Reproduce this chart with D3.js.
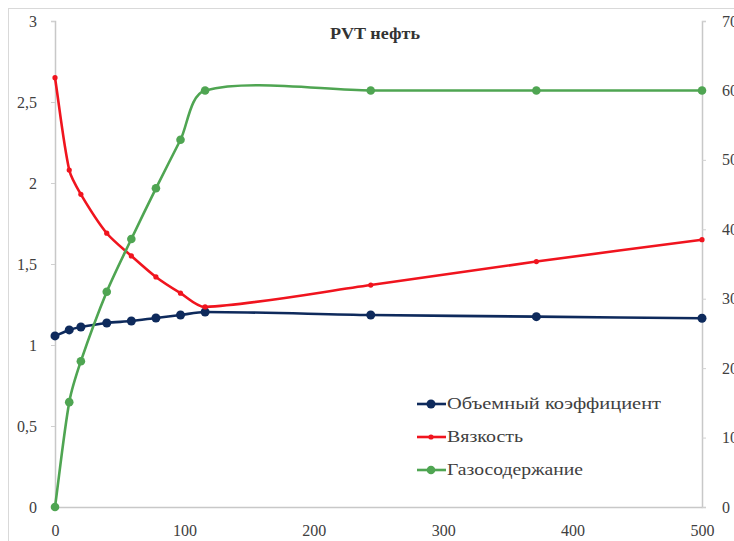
<!DOCTYPE html>
<html>
<head>
<meta charset="utf-8">
<script src="https://cdn.jsdelivr.net/npm/d3@7"></script>
<style>
  body { margin: 0; background: #fff; }
  text { font-family: "Liberation Serif", "DejaVu Serif", serif; fill: #404040; }
</style>
</head>
<body>
<div id="chart"></div>
<script>
// values
const pressure = [0, 11, 20, 40, 59, 78, 97, 116, 244, 372, 500];
const volumeFactor = [1.056, 1.093, 1.111, 1.136, 1.148, 1.167, 1.185, 1.204, 1.185, 1.175, 1.165];
const viscosity = [2.65, 2.08, 1.93, 1.69, 1.55, 1.42, 1.32, 1.235, 1.37, 1.515, 1.65];
const gasContent = [0, 15.1, 21, 31, 38.6, 45.9, 52.9, 60, 60, 60, 60];

const xTicks = [0, 100, 200, 300, 400, 500];
const leftTicks = [0, 0.5, 1, 1.5, 2, 2.5, 3];
const rightTicks = [0, 10, 20, 30, 40, 50, 60, 70];
const seriesNames = ["Объемный коэффициент", "Вязкость", "Газосодержание"];
const seriesColors = ["#0e2a5c", "#f0141e", "#4fa552"];
const legendWidths = [214, 76, 136];

const width = 734, height = 541;
const margin = {top: 21, right: 32, bottom: 34, left: 55};

let svg = d3.select("#chart").append("svg")
    .attr("width", width)
    .attr("height", height);

// outer frame
svg.append("rect")
    .attr("x", 8.5).attr("y", 8.5)
    .attr("width", width).attr("height", height)
    .attr("fill", "none")
    .attr("stroke", "#d9d9d9");

let xScale = d3.scaleLinear().domain([0, 500]).range([margin.left, width - margin.right]);
let yLeft = d3.scaleLinear().domain([0, 3]).range([height - margin.bottom, margin.top]);
let yRight = d3.scaleLinear().domain([0, 70]).range([height - margin.bottom, margin.top]);

let comma = d3.formatLocale({decimal: ",", thousands: " ", grouping: [3], currency: ["", ""]});

//axes
let xAxis = svg.append("g")
    .attr("transform", "translate(0," + (height - margin.bottom) + ")")
    .call(d3.axisBottom(xScale).tickValues(xTicks).tickSize(0).tickPadding(18).tickFormat(d3.format("d")));
let leftAxis = svg.append("g")
    .attr("transform", "translate(" + margin.left + ",0)")
    .call(d3.axisLeft(yLeft).tickValues(leftTicks).tickSize(4).tickPadding(14).tickFormat(comma.format("~g")));
let rightAxis = svg.append("g")
    .attr("transform", "translate(" + (width - margin.right) + ",0)")
    .call(d3.axisRight(yRight).tickValues(rightTicks).tickSize(4).tickPadding(16).tickFormat(d3.format("d")));

for (let ax of [xAxis, leftAxis, rightAxis]) {
    ax.select(".domain").attr("stroke", "#c8c8c8").attr("stroke-width", 1.5);
    ax.selectAll(".tick line").attr("stroke", "#d0d0d0");
    ax.selectAll(".tick text")
        .attr("font-family", "Liberation Serif, serif")
        .attr("font-size", 16)
        .attr("fill", "#404040");
}

// title
svg.append("text")
    .attr("x", 375)
    .attr("y", 39)
    .attr("text-anchor", "middle")
    .attr("font-size", 16)
    .attr("font-weight", "bold")
    .attr("textLength", 90)
    .attr("lengthAdjust", "spacingAndGlyphs")
    .style("fill", "#333")
    .text("PVT нефть");

// Excel-like smoothing: tangent from neighbours, arm length tied to each segment
function smoothPath(pts, k) {
    let p = d3.path();
    let n = pts.length;
    let dir = pts.map(function (pt, i) {
        let a = pts[Math.max(i - 1, 0)], b = pts[Math.min(i + 1, n - 1)];
        let dx = b[0] - a[0], dy = b[1] - a[1];
        let len = Math.hypot(dx, dy) || 1;
        return [dx / len, dy / len];
    });
    p.moveTo(pts[0][0], pts[0][1]);
    for (let i = 0; i < n - 1; i++) {
        let a = pts[i], b = pts[i + 1];
        let arm = Math.hypot(b[0] - a[0], b[1] - a[1]) * k;
        p.bezierCurveTo(a[0] + dir[i][0] * arm, a[1] + dir[i][1] * arm,
            b[0] - dir[i + 1][0] * arm, b[1] - dir[i + 1][1] * arm,
            b[0], b[1]);
    }
    return p.toString();
}

// series
let series = [
    {values: volumeFactor, scale: yLeft, r: 4.5},
    {values: viscosity, scale: yLeft, r: 2.6},
    {values: gasContent, scale: yRight, r: 4.3}
];

series.forEach(function (s, i) {
    let pts = pressure.map(function (p, j) { return [xScale(p), s.scale(s.values[j])]; });
    let g = svg.append("g");
    g.append("path")
        .attr("d", smoothPath(pts, 0.28))
        .attr("fill", "none")
        .attr("stroke", seriesColors[i])
        .attr("stroke-width", 2.6);
    g.selectAll("circle")
        .data(pts)
        .enter().append("circle")
        .attr("cx", function (d) { return d[0]; })
        .attr("cy", function (d) { return d[1]; })
        .attr("r", s.r)
        .attr("fill", seriesColors[i]);
});

// legend
let legend = svg.append("g").attr("transform", "translate(417,404)");
seriesNames.forEach(function (name, i) {
    let row = legend.append("g").attr("transform", "translate(0," + (i * 33) + ")");
    row.append("line")
        .attr("x1", 0).attr("x2", 29)
        .attr("stroke", seriesColors[i])
        .attr("stroke-width", 2.6);
    row.append("circle")
        .attr("cx", 14)
        .attr("r", series[i].r)
        .attr("fill", seriesColors[i]);
    row.append("text")
        .attr("x", 30)
        .attr("y", 5)
        .attr("font-size", 16)
        .attr("textLength", legendWidths[i])
        .attr("lengthAdjust", "spacingAndGlyphs")
        .text(name);
});
</script>
</body>
</html>
